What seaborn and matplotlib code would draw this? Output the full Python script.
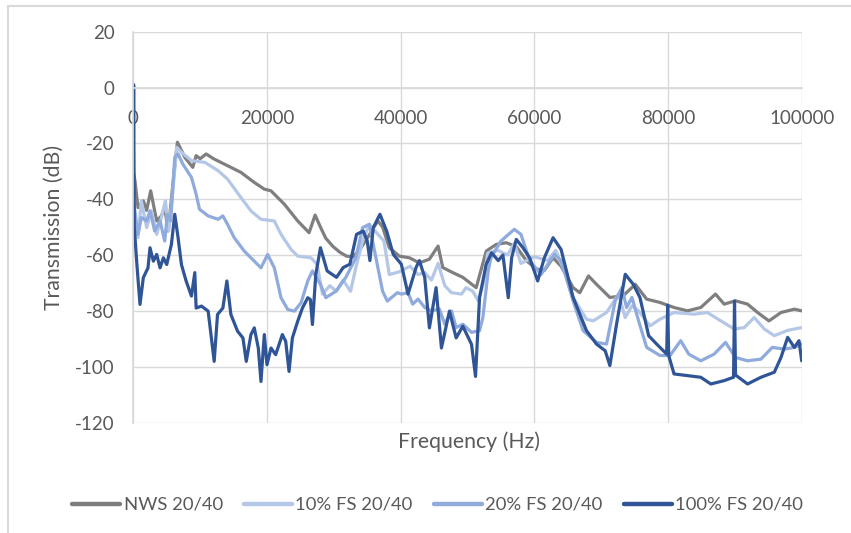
import matplotlib
matplotlib.use("Agg")
import matplotlib.pyplot as plt
import seaborn as sns
import pandas as pd
import numpy as np
from matplotlib.lines import Line2D

# ---------------- data (frequency in kHz, transmission in dB) ----------------
series_names = ["NWS 20/40", "10% FS 20/40", "20% FS 20/40", "100% FS 20/40"]

nws_f = [0, 0.25, 0.7, 1.5, 2.0, 2.6, 3.0, 3.5, 4.2, 4.7, 5.2, 5.7, 6.2, 6.6, 7.7, 8.9, 9.4, 10.0, 10.9, 12.0,
         14.1, 16.1, 18.1, 19.6, 20.6, 22.6, 24.6, 26.3, 27.2, 28.0, 28.8, 29.9, 30.9, 31.9, 32.9, 33.9, 35.0,
         36.0, 36.6, 37.3, 38.3, 39.8, 41.3, 42.8, 44.3, 45.6, 46.3, 47.8, 49.3, 51.3, 52.8, 54.3, 55.8, 57.3,
         58.8, 60.3, 61.5, 62.8, 64.0, 65.8, 66.8, 68.1, 69.3, 71.3, 73.3, 75.1, 76.8, 78.8, 80.9, 82.9, 84.9,
         87.1, 88.4, 90.1, 91.9, 93.4, 95.1, 96.9, 98.9, 100]
nws_db = [-30, -33.4, -43, -40.6, -44, -37, -41.8, -47.8, -46, -43, -51.4, -40, -28, -19.6, -25, -28.6, -24.4,
          -25.5, -23.8, -25.5, -28, -30.4, -34, -36.4, -37, -41.8, -47.8, -52, -45.7, -50, -54, -57, -59, -60.4,
          -60.6, -58, -54, -50, -47.8, -50, -57.4, -60.4, -61, -62.8, -61.5, -56.8, -64.5, -66.3, -68, -71.7,
          -58.6, -56.2, -55.6, -57, -62, -65, -65.5, -61, -64, -71.7, -73.5, -67.5, -70.5, -75.2, -74.6, -70.5,
          -75.8, -77, -78.8, -80, -78.8, -74, -77.6, -76.4, -77.6, -80.6, -83.6, -80.6, -79.4, -80]

fs10_f = [0, 0.3, 0.7, 1.2, 2.0, 2.7, 3.5, 4.2, 4.8, 5.3, 5.8, 6.5, 7.2, 8.7, 10.7, 12.7, 14.1, 16.1, 17.6,
          19.1, 21.1, 22.1, 23.6, 24.6, 26.6, 27.5, 28.3, 29.4, 30.4, 31.4, 32.5, 33.3, 34.3, 35.3, 36.6, 37.5,
          38.3, 39.8, 41.4, 42.6, 43.6, 44.6, 45.6, 46.6, 47.6, 49.1, 49.8, 50.8, 51.6, 52.4, 53.0, 54.5, 56.0,
          57.0, 58.0, 60.0, 62.0, 63.2, 64.5, 65.8, 67.8, 68.8, 70.8, 72.6, 73.6, 74.6, 75.6, 77.3, 78.8, 80.9,
          83.9, 85.9, 87.9, 89.9, 91.4, 92.9, 94.4, 95.9, 97.9, 100]
fs10_db = [-40, -47.8, -53.8, -40.6, -50.2, -44.2, -52.6, -46.6, -40.6, -51.4, -40, -21.4, -23.2, -26.2, -26.8,
           -29.8, -32.8, -39.4, -44.2, -47.2, -47.8, -52.6, -58, -60.4, -61, -63.4, -74, -71, -73, -69, -73,
           -64.5, -55, -49, -52.6, -55, -67, -66, -64, -67, -66.3, -69, -63, -71, -73.5, -74, -71.7, -73,
           -76.4, -70, -59.4, -58.3, -60, -55.8, -63, -60.6, -62, -58.3, -65.8, -75.2, -83, -83.6, -80.6, -74,
           -82.4, -78.2, -80, -85.4, -83, -80.6, -81.2, -80.6, -83.6, -86.5, -86, -82.4, -86.5, -88.9, -87, -86]

fs20_f = [0, 0.3, 0.7, 1.2, 2.0, 2.5, 3.2, 4.0, 4.7, 5.1, 5.6, 6.2, 6.7, 7.4, 8.7, 9.4, 9.9, 11.2, 12.7, 13.4,
          14.1, 15.1, 16.6, 18.1, 19.1, 20.1, 21.1, 22.1, 23.1, 24.1, 25.1, 26.1, 26.8, 28.0, 28.8, 30.3, 31.8,
          33.3, 34.3, 35.3, 36.3, 37.3, 38.0, 39.5, 40.1, 41.1, 41.8, 42.6, 43.6, 44.6, 45.8, 46.6, 47.6, 48.3,
          49.3, 50.6, 51.8, 52.3, 53.1, 53.5, 55.0, 57.0, 58.0, 59.3, 61.0, 63.0, 64.0, 65.8, 67.3, 69.3, 70.8,
          72.1, 73.1, 73.8, 74.6, 75.6, 76.8, 78.8, 80.3, 81.9, 83.1, 84.9, 86.9, 88.6, 90.1, 91.9, 93.9, 95.6,
          97.4, 98.9, 100]
fs20_db = [-40, -45.4, -52.6, -46.6, -47.8, -44.2, -51.4, -47.8, -55, -45.4, -47.8, -25, -23.8, -27.4, -32.2,
           -38.2, -43.6, -46, -47.2, -46, -49, -53.8, -58.6, -62.2, -64.6, -59.8, -64.6, -75.3, -79.5, -80.1,
           -77.1, -69.3, -65.7, -70.5, -75.3, -73, -68, -61, -50.2, -49, -61, -73, -76.5, -73.5, -74, -73.5,
           -77.6, -75.8, -78.8, -80, -79.4, -84.8, -80, -86, -84.8, -87.7, -87.1, -82.4, -65.7, -61, -55, -50.8,
           -52.6, -62, -67, -59.8, -62, -76.4, -87.1, -91.3, -91.9, -76.4, -71.7, -78.8, -75.2, -83.6, -93.1,
           -96, -96, -90.7, -95.5, -97.9, -95.5, -91.3, -96.7, -97.9, -97.3, -93.1, -93.7, -93.1, -91.9]

fs100_f = [0, 0.05, 0.15, 0.5, 1.0, 1.5, 2.2, 2.5, 3.0, 3.5, 4.0, 4.5, 5.0, 5.7, 6.2, 6.7, 7.2, 7.9, 8.7, 9.2,
           9.4, 10.2, 11.2, 12.1, 12.6, 13.4, 14.0, 14.6, 15.6, 16.4, 16.9, 17.6, 18.1, 18.7, 19.1, 19.6, 20.0,
           20.6, 21.3, 22.3, 22.8, 23.3, 23.8, 24.6, 25.3, 26.1, 26.5, 26.8, 27.3, 28.0, 29.0, 30.4, 31.4, 32.4,
           33.4, 34.4, 35.0, 35.4, 35.9, 36.9, 37.9, 38.9, 40.1, 41.1, 42.3, 42.8, 43.6, 44.3, 45.3, 46.1, 47.3,
           48.3, 49.3, 50.6, 51.2, 51.8, 52.8, 53.6, 54.6, 55.3, 56.1, 56.6, 57.3, 58.3, 59.3, 60.5, 61.5, 62.8,
           64.0, 65.8, 67.8, 69.3, 70.6, 71.3, 72.3, 73.6, 74.8, 75.8, 77.1, 78.3, 79.8, 79.95, 80.1, 80.9,
           82.9, 84.9, 86.4, 88.4, 89.8, 89.95, 90.1, 91.9, 93.9, 95.9, 96.9, 97.9, 98.9, 99.6, 100]
fs100_db = [-30, 1, -50, -62.2, -77.7, -68.1, -64.6, -57.4, -62.2, -59.8, -64.6, -61, -63.4, -56.2, -45.4,
            -53.8, -63.4, -69.3, -74.7, -66.3, -79, -78.3, -80.1, -98.1, -81.3, -79, -69.3, -81.3, -87.3, -89.7,
            -98.1, -88.5, -86.1, -93.3, -105.3, -88.5, -99.3, -93.3, -95.7, -88.5, -90.9, -101.7, -89.7, -83.7,
            -79, -75.3, -76, -84.9, -67, -57.4, -65.7, -68, -64.5, -63.3, -52.6, -51.4, -55, -62, -50.2, -45.4,
            -51.4, -59.8, -63.3, -74, -64.5, -62, -68, -86.1, -71.7, -93.3, -80.1, -89.7, -85.5, -92, -103.5,
            -75.3, -63.3, -59.2, -62, -60, -75.3, -61, -54.4, -57.4, -61, -69.3, -61, -53.8, -58, -75.2, -87.1,
            -91.9, -94.3, -99.6, -84.8, -66.9, -70.5, -75.2, -88.9, -91.9, -95.5, -78, -96, -102.6, -103.2,
            -103.8, -106.2, -105, -103.8, -76.5, -103, -106.2, -103.8, -102, -96.7, -89.5, -93.1, -90.7, -97.9]

x_ticks = [0, 20000, 40000, 60000, 80000, 100000]
y_ticks = [20, 0, -20, -40, -60, -80, -100, -120]
colors = ["#7f7f7f", "#b4c7e7", "#8faadc", "#2f5597"]

# ---------------- build long table ----------------
frames = []
for name, f, d in zip(series_names, [nws_f, fs10_f, fs20_f, fs100_f],
                      [nws_db, fs10_db, fs20_db, fs100_db]):
    frames.append(pd.DataFrame({"Frequency": np.array(f) * 1000.0,
                                "Transmission": d, "Series": name}))
df = pd.concat(frames, ignore_index=True)

sns.set_theme(style="white")
plt.rcParams["font.family"] = ["Lato", "DejaVu Sans"]
text_color = "#595959"
grid_color = "#d9d9d9"

fig = plt.figure(figsize=(8.51, 5.33), dpi=100)
ax = fig.add_axes([133.3 / 851, 1 - 422.5 / 533, (801.7 - 133.3) / 851, (422.5 - 31.7) / 533])

sns.lineplot(data=df, x="Frequency", y="Transmission", hue="Series", hue_order=series_names,
             palette=colors, estimator=None, sort=False, linewidth=2.3, ax=ax, legend=False)

ax.set_xlim(0, 100000)
ax.set_ylim(-120, 20)
ax.set_xticks(x_ticks)
ax.set_xticklabels([str(t) for t in x_ticks])
ax.set_yticks(y_ticks)
ax.set_yticklabels([str(t) for t in y_ticks])
ax.grid(True, color=grid_color, linewidth=1.0)
ax.set_axisbelow(True)

for s in ["top", "right"]:
    ax.spines[s].set_visible(False)
ax.spines["left"].set_color(grid_color)
ax.spines["bottom"].set_color(grid_color)
ax.spines["bottom"].set_position(("data", 0))
ax.tick_params(axis="both", length=0, labelsize=13.5, colors=text_color)
ax.tick_params(axis="x", pad=16)
ax.tick_params(axis="y", pad=13.5)

ax.set_xlabel("Frequency (Hz)", fontsize=15.3, color=text_color)
ax.xaxis.set_label_coords(0.502, -0.023)
ax.set_ylabel("Transmission (dB)", fontsize=15.3, color=text_color)
ax.yaxis.set_label_coords(-0.104, 0.5)

handles = [Line2D([0], [0], color=c, linewidth=3.2) for c in colors]
fig.legend(handles, series_names, loc="center", bbox_to_anchor=(437.5 / 851, 1 - 505 / 533), ncol=4,
           frameon=False, fontsize=13.3, handlelength=2.6, handletextpad=0.18, columnspacing=1.15,
           labelcolor=text_color)

# chart-area border (partly outside the visible region)
fig.add_artist(Line2D([8 / 851, 1.0], [1 - 6 / 533, 1 - 6 / 533], color=grid_color, linewidth=1.5,
                      transform=fig.transFigure))
fig.add_artist(Line2D([8 / 851, 8 / 851], [0.0, 1 - 6 / 533], color=grid_color, linewidth=1.5,
                      transform=fig.transFigure))

fig.savefig("out.png", dpi=100)
